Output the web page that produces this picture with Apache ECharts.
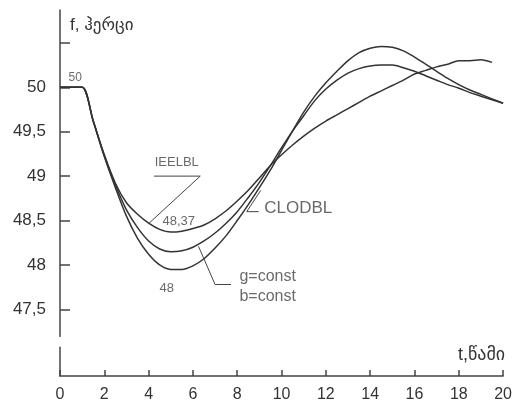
<!DOCTYPE html>
<html>
<head>
<meta charset="utf-8">
<script src="https://cdn.jsdelivr.net/npm/echarts@6/dist/echarts.min.js"></script>
<style>
  html, body { margin: 0; padding: 0; background: #fff; }
  #chart { width: 515px; height: 405px; }
</style>
</head>
<body>
<div id="chart"></div>
<script>
// time, s
var timeSec = [0,0.5,1,1.5,2,2.5,3,3.5,4,4.5,5,5.5,6,6.5,7,7.5,8,8.5,9,9.5,10,
               10.5,11,11.5,12,12.5,13,13.5,14,14.5,15,15.5,16,16.5,17,17.5,18,18.5,19,19.5,20];
// frequency, Hz
var freqTop = [50,50,50,49.62,49.24,48.92,48.7,48.57,48.47,48.4,48.37,48.38,48.41,48.45,48.52,48.61,48.72,48.84,48.98,49.12,49.24,
               49.35,49.45,49.54,49.62,49.69,49.76,49.83,49.9,49.96,50.02,50.08,50.15,50.19,50.23,50.26,50.3,50.3,50.31,50.28,null];
var freqMid = [50,50,50,49.62,49.23,48.9,48.62,48.42,48.27,48.18,48.15,48.16,48.2,48.27,48.36,48.47,48.6,48.76,48.93,49.12,49.32,
               49.51,49.68,49.85,49.98,50.08,50.16,50.21,50.24,50.25,50.25,50.22,50.18,50.13,50.08,50.03,49.99,49.94,49.9,49.86,49.82];
var freqLow = [50,50,50,49.62,49.22,48.87,48.55,48.3,48.12,48.0,47.95,47.95,47.99,48.07,48.19,48.33,48.5,48.68,48.87,49.07,49.29,
               49.51,49.72,49.9,50.05,50.18,50.3,50.39,50.44,50.46,50.45,50.41,50.34,50.26,50.18,50.1,50.03,49.97,49.92,49.87,49.82];

var yTicks = [47.5,48,48.5,49,49.5,50,50.5];
var yLabels = [47.5,48,48.5,49,49.5,50];

// annotation texts and their anchor points [t, f]
var noteText = ['50','IEELBL','48,37','CLODBL','g=const','b=const','48'];
var notePos = [[0.69,50.11],[5.27,49.15],[5.36,48.49],[9.22,48.64],[8.1,47.87],[8.1,47.64],[4.82,47.74]];
// leader lines
var leaderIeelbl = [[4.24,49.0],[6.33,49.0],[4.02,48.47]];
var leaderClodbl = [[9.06,48.84],[8.43,48.6],[8.97,48.6]];
var leaderConst = [[6.25,48.21],[7.0,47.78],[7.72,47.78]];

function pairs(ys) {
  var out = [];
  for (var i = 0; i < timeSec.length; i++) {
    if (ys[i] != null) out.push([timeSec[i], ys[i]]);
  }
  return out;
}

var noteSizes = [12,13,13,17,16,16,13];
var noteAlign = ['center','center','center','left','left','left','center'];
var notes = noteText.map(function (txt, i) {
  return {
    name: txt,
    value: notePos[i],
    label: { fontSize: noteSizes[i], align: noteAlign[i] }
  };
});

var font = 'Liberation Sans, Arial, DejaVu Sans, sans-serif';
var curveStyle = { color: '#333', width: 1.5 };
var leaderStyle = { color: '#444', width: 1 };

function curve(ys) {
  return {
    type: 'line', data: pairs(ys), showSymbol: false, symbol: 'none',
    smooth: 0.3, lineStyle: curveStyle, silent: true
  };
}
function leader(pts) {
  return { type: 'line', data: pts, symbol: 'none', lineStyle: leaderStyle, silent: true };
}

var chart = echarts.init(document.getElementById('chart'));
chart.setOption({
  animation: false,
  textStyle: { fontFamily: font },
  grid: { left: 60, right: 7, top: 10, bottom: 29 },
  xAxis: {
    type: 'value', min: 0, max: 20, interval: 2,
    name: 't,წამი', nameLocation: 'end', nameGap: 2,
    nameTextStyle: { color: '#333', fontSize: 18, align: 'right', verticalAlign: 'bottom', padding: [0, 0, 12, 0] },
    axisLine: { lineStyle: { color: '#444', width: 1.5 } },
    axisTick: { inside: true, length: 6, lineStyle: { color: '#444', width: 1.5 } },
    axisLabel: { color: '#333', fontSize: 16, margin: 11, showMaxLabel: true },
    splitLine: { show: false }
  },
  yAxis: {
    type: 'value', min: 46.75, max: 50.87,
    name: 'f, ჰერცი', nameLocation: 'end', nameGap: -24,
    nameTextStyle: { color: '#333', fontSize: 17, align: 'left', verticalAlign: 'bottom', padding: [0, 0, 0, 10] },
    axisLine: { lineStyle: { color: '#444', width: 1.5 } },
    axisTick: { inside: true, length: 10, customValues: yTicks, lineStyle: { color: '#444', width: 1.5 } },
    axisLabel: {
      color: '#333', fontSize: 17, margin: 14, customValues: yLabels,
      formatter: function (v) { return String(v).replace('.', ','); }
    },
    splitLine: { show: false }
  },
  series: [
    curve(freqTop),
    curve(freqMid),
    curve(freqLow),
    leader(leaderIeelbl),
    leader(leaderClodbl),
    leader(leaderConst),
    {
      type: 'scatter', data: notes, symbolSize: 0, silent: true,
      label: {
        show: true, position: 'inside', formatter: '{b}',
        color: '#444', fontFamily: font, verticalAlign: 'middle'
      }
    }
  ]
});

// break in the y axis line
var gapTop = chart.convertToPixel({ gridIndex: 0 }, [0, 47.19]);
var gapBot = chart.convertToPixel({ gridIndex: 0 }, [0, 47.08]);
chart.setOption({
  graphic: [{
    type: 'rect', z: 100,
    shape: { x: gapTop[0] - 3, y: gapTop[1], width: 6, height: gapBot[1] - gapTop[1] },
    style: { fill: '#fff' }
  }]
});
</script>
</body>
</html>
